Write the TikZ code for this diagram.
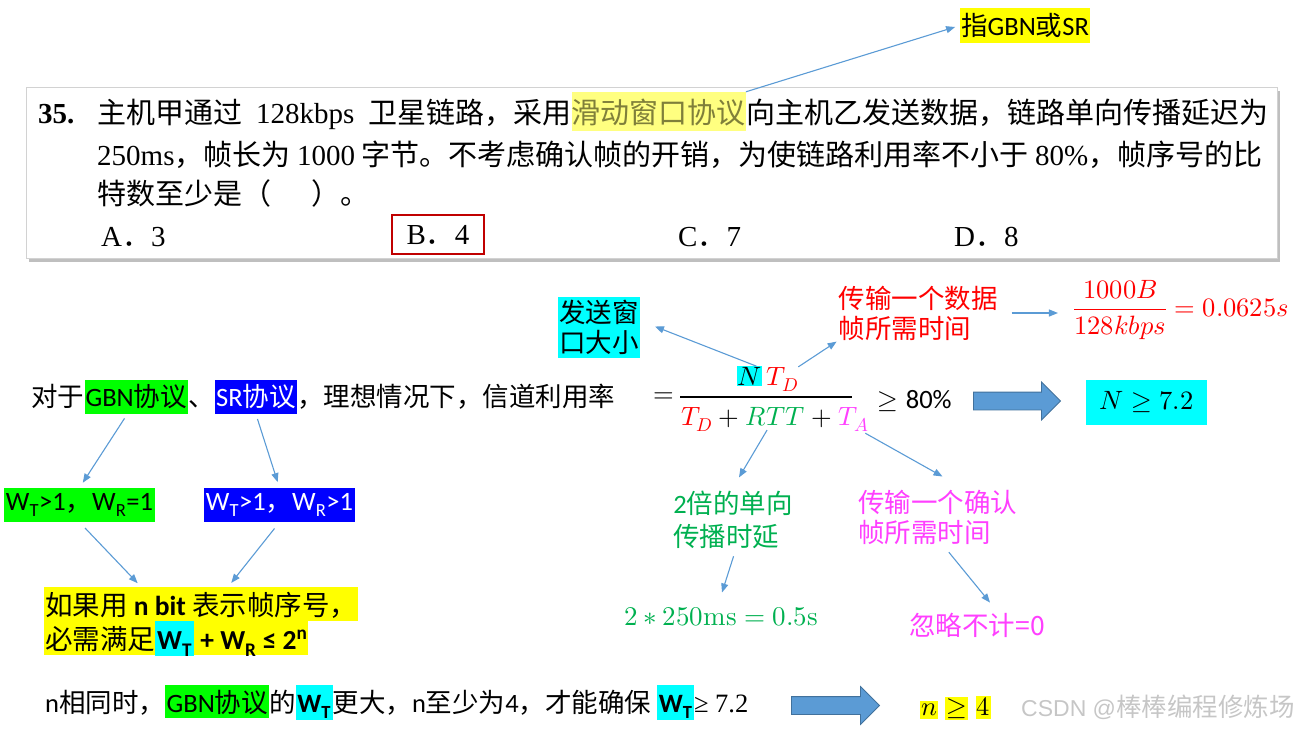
\documentclass[tikz,border=0pt]{standalone}
\usepackage{fontspec}
\usepackage{amsmath}
\usepackage{unicode-math}
\setmainfont{Noto Sans CJK SC}
\setmathfont{Latin Modern Math}
\newfontfamily\tmfont{Liberation Serif}
\newfontfamily\cafont{Carlito}
\newfontfamily\arfont{Liberation Sans}
\usetikzlibrary{arrows.meta, positioning, shapes.arrows, calc}
\definecolor{cblue}{HTML}{5B9BD5}
\definecolor{cblueline}{HTML}{41719C}
\definecolor{cred}{HTML}{FF0000}
\definecolor{cdarkred}{HTML}{C00000}
\definecolor{cgreen}{HTML}{00FF00}
\definecolor{cgreentext}{HTML}{00B050}
\definecolor{cpink}{HTML}{FF3FFF}
\definecolor{ccyan}{HTML}{00FFFF}
\definecolor{cyellow}{HTML}{FFFF00}
\definecolor{chlfill}{HTML}{FFFF80}
\definecolor{chltext}{HTML}{7F7F3A}
\definecolor{csrblue}{HTML}{0000FF}
\newcommand\tms[1]{{\tmfont #1}}
\newcommand\clb[1]{{\cafont #1}}
\newcommand\hs{\hspace{0.48em}}
\newcommand\hlc[2]{{\setlength\fboxsep{1.5pt}\colorbox{#1}{\rule[-4.5pt]{0pt}{30pt}#2}}}
\newcommand\ybox[1]{{\setlength\fboxsep{1pt}\colorbox{cyellow}{\rule[-3pt]{0pt}{16pt}$#1$}}}
\newcommand\qsize{\fontsize{29}{40}\selectfont}
\newcommand\lsize{\fontsize{26.5}{30}\selectfont}
\newcommand\csize{\fontsize{27.5}{34}\selectfont}
\tikzset{
  qtext/.style={anchor=base west, inner sep=0pt, font=\qsize},
  txt/.style={inner sep=0pt, font=\lsize},
  mth/.style={anchor=base west, inner sep=0pt, font=\lsize},
  hl/.style={fill=#1, anchor=base west, inner xsep=1pt, inner ysep=2pt, text height=24.5pt, text depth=5.5pt, font=\lsize},
  cond/.style={fill=cyellow, anchor=base west, inner xsep=1pt, inner ysep=2pt, text height=26.5pt, text depth=3.5pt, font=\csize},
  tag/.style={fill=#1, inner sep=1pt, font=\lsize},
  arrow/.style={-{Triangle[length=9pt, width=7pt]}, draw=cblue, line width=1.1pt},
  bigarrow/.style={single arrow, draw=cblueline, fill=cblue, line width=0.8pt, minimum height=#1, minimum width=37pt, single arrow head extend=10pt, inner sep=0pt, inner ysep=8.5pt},
}

\begin{document}
\begin{tikzpicture}[x=1pt, y=-1pt]
  \useasboundingbox (0,0) rectangle (1300,728);
  % question
  \fill[gray!50] (29,91) rectangle (1280,262);
  \node[draw=gray!35, fill=white, line width=1pt, inner sep=0pt, minimum width=1251pt, minimum height=171pt, anchor=north west] (qbox) at (26,87) {};
  \node[qtext, font=\qsize\tmfont\bfseries] (qnum) at (38,123) {35.};
  \node[qtext] (q1a) at (97,123) {主机甲通过\hs\tms{128kbps}\hs 卫星链路，采用};
  \node[qtext, fill=chlfill, text=chltext, text height=29pt, text depth=6pt, inner ysep=2pt] (qhl) at (q1a.base east) {滑动窗口协议};
  \node[qtext] (q1b) at (qhl.base east) {向主机乙发送数据，链路单向传播延迟为};
  \node[qtext] (q2) at (97,165) {\tms{250ms}，帧长为 \tms{1000} 字节。不考虑确认帧的开销，为使链路利用率不小于 \tms{80\%}，帧序号的比};
  \node[qtext] (q3) at (97,204) {特数至少是（\hspace{1.4em}）。};
  \node[qtext] (optA) at (101,246) {\tms{A}．\tms{3}};
  \node[draw=cdarkred, line width=2pt, inner sep=0pt, minimum width=92pt, minimum height=39pt, font=\qsize] (optB) at (438,234.5) {\tms{B}．\tms{4}};
  \node[qtext] (optC) at (678,246) {\tms{C}．\tms{7}};
  \node[qtext] (optD) at (954,246) {\tms{D}．\tms{8}};
  \node[tag=cyellow, minimum height=35pt] (gbnsr) at (1025,25.5) {指\clb{GBN}或\clb{SR}};
  \draw[arrow, shorten >=5pt] (qhl.north east) -- (gbnsr.west);

  % utilisation formula
  \node[tag=ccyan, align=center, minimum height=61pt] (wnd) at (599,327.5) {发送窗\\口大小};
  \node[txt, text=cred, align=left] (tdtxt) at (918,313) {传输一个数据\\帧所需时间};
  \node[txt, text=cred] (tdfrac) at (1181,310) {$\dfrac{1000B}{128kbps}=0.0625s$};
  \draw[arrow] ([xshift=14pt]tdtxt.east) -- ([xshift=-15pt]tdtxt.east -| tdfrac.west);
  \node[txt, anchor=base west] (duiyu) at (31,406.5) {对于};
  \node[hl=cgreen] (gbn) at (duiyu.base east) {\clb{GBN}协议};
  \node[txt, anchor=base west] (dun) at (gbn.base east) {、};
  \node[hl=csrblue, text=white] (sr) at (dun.base east) {\clb{SR}协议};
  \node[txt, anchor=base west] (ideal) at (sr.base east) {，理想情况下，信道利用率};
  \node[txt] (eq) at (664,398) {$=$};
  \coordinate (barL) at (680,397);
  \coordinate (barR) at (852,397);
  \draw[line width=1.3pt] (barL) -- (barR);
  \node[mth, fill=ccyan, inner sep=0.5pt] (numN) at (737,385) {$N$};
  \node[mth, text=cred] (numT) at ([xshift=4pt]numN.base east) {$T_D$};
  \node[mth, text=cred] (dTD) at (681,425) {$T_D$};
  \node[mth] (dp1) at ([xshift=5.9pt]dTD.base east) {$+$};
  \node[mth, text=cgreentext] (dRTT) at ([xshift=5.9pt]dp1.base east) {$RTT$};
  \node[mth] (dp2) at ([xshift=5.9pt]dRTT.base east) {$+$};
  \node[mth, text=cpink] (dTA) at ([xshift=5.9pt]dp2.base east) {$T_A$};
  \node[txt, anchor=base west] (geq) at (877,408.5) {$\geq$\hspace{8pt}\clb{80\%}};
  \node[bigarrow=87pt] (arr1) at (1012.5,401) {};
  \node[tag=ccyan, minimum width=121pt, minimum height=45pt] (nres) at (1146.5,402.5) {$N\geq 7.2$};
  \draw[arrow] ([xshift=-6pt]numN.north east) -- ([xshift=15pt, yshift=1pt]wnd.east);
  \draw[arrow, shorten >=2pt] (numT.north east) -- (tdtxt.south west);

  \node[txt, text=cgreentext, align=left, font=\fontsize{26.5}{33}\selectfont] (rttx) at (733,519.5) {\clb{2}倍的单向\\传播时延};
  \node[txt, text=cpink, align=left] (tatxt) at (937.5,517) {传输一个确认\\帧所需时间};
  \node[txt, text=cgreentext, font=\fontsize{27}{30}\selectfont] (rttv) at (721,617) {$2*250\symup{ms}=0.5\symup{s}$};
  \node[txt, text=cpink] (tav) at (977,625) {忽略不计=0};
  \draw[arrow, shorten <=5pt] ([xshift=-6pt]dRTT.south) -- ([xshift=6pt, yshift=13pt]rttx.north);
  \draw[arrow, shorten <=3pt] ([xshift=-6pt]dTA.south east) -- ([xshift=5pt, yshift=13pt]tatxt.north);
  \draw[arrow, shorten <=8pt] ([xshift=3pt]rttx.south) -- ([xshift=1pt, yshift=15pt]rttv.north);
  \draw[arrow, shorten <=10pt] ([xshift=5pt]tatxt.south) -- ([xshift=13pt, yshift=10pt]tav.north);

  % window conditions
  \node[tag=cgreen, minimum width=151pt, minimum height=34pt] (wgbn) at (79.5,505) {\clb{W\textsubscript{T}>1}，\clb{W\textsubscript{R}=1}};
  \node[tag=csrblue, text=white, minimum width=151pt, minimum height=34pt] (wsr) at (279.5,505) {\clb{W\textsubscript{T}>1}，\clb{W\textsubscript{R}>1}};
  \draw[arrow, shorten <=5pt, shorten >=6pt] ([xshift=-9pt]gbn.south) -- (wgbn.north);
  \draw[arrow, shorten <=5pt, shorten >=6pt] (sr.south) -- (wsr.north);
  \node[cond] (cond1) at (44,615.5) {如果用 \clb{\bfseries n bit} 表示帧序号，};
  \node[cond] (cond2) at (44,649.5) {必需满足{\setlength\fboxsep{0pt}\colorbox{ccyan}{\rule[-5.5pt]{0pt}{34pt}\hspace{2pt}\clb{\bfseries W\textsubscript{T}}\hspace{2pt}}}\clb{\bfseries{} + W\textsubscript{R} ≤ 2\textsuperscript{n}}};
  \draw[arrow, shorten <=8pt, shorten >=5pt] (wgbn.south) -- ([xshift=-60pt]cond1.north);
  \draw[arrow, shorten <=8pt, shorten >=5pt] (wsr.south) -- ([xshift=27pt]cond1.north);

  % conclusion
  \node[txt, anchor=base west] (concl) at (45,712) {\clb{n}相同时，\hlc{cgreen}{\clb{GBN}协议}的\hlc{ccyan}{\clb{\bfseries W\textsubscript{T}}}更大，\clb{n}至少为\clb{4}，才能确保 \hlc{ccyan}{\clb{\bfseries W\textsubscript{T}}}\tms{≥ 7.2}};
  \node[bigarrow=88pt] (arr2) at (831,705.5) {};
  \node[txt] (nge4) at (955.5,708) {\ybox{n}\hspace{7pt}\ybox{\geq}\hspace{8pt}\ybox{4}};
  \node[txt, text=gray!45, anchor=west] (wm) at (1021,707) {{\arfont\fontsize{23}{30}\selectfont CSDN @}{\fontsize{25.5}{30}\selectfont 棒棒编程修炼场}};
\end{tikzpicture}
\end{document}
